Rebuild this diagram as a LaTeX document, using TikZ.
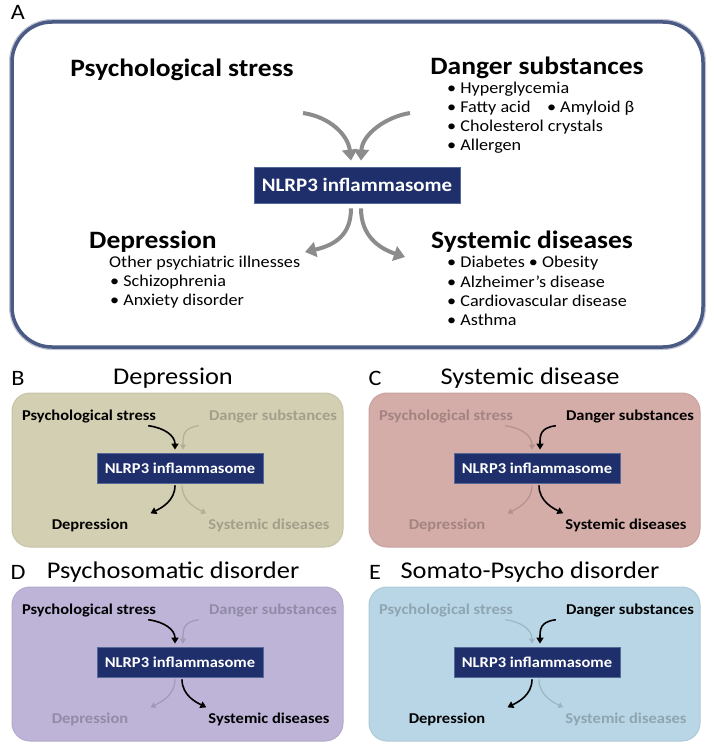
\documentclass[tikz,border=0pt]{standalone}
\usepackage{fontspec}
\setmainfont{Carlito}[FakeStretch=1.1]
\usetikzlibrary{arrows.meta}

% 颜色定义
\definecolor{navy}{RGB}{31,47,107}
\definecolor{navyedge}{RGB}{86,104,150}
\definecolor{frameA}{RGB}{74,90,133}
\definecolor{panB}{RGB}{211,207,179}
\definecolor{panC}{RGB}{212,172,168}
\definecolor{panD}{RGB}{189,180,216}
\definecolor{panE}{RGB}{185,214,230}

% 字号快捷命令
\newcommand{\fsz}[1]{\fontsize{#1}{#1}\selectfont}

\begin{document}
\begin{tikzpicture}[
    % 坐标单位:1pt, y 轴向下(与图片像素一致)
    x=1pt, y=-1pt,
    % 大标题样式
    bigtitle/.style={font=\bfseries\fsz{25}, inner sep=0pt},
    % 列表条目样式
    item/.style={font=\fsz{16.5}, anchor=west, inner sep=0pt},
    % NLRP3 方框样式
    nlrbox/.style={
        rectangle, % 形状:矩形
        fill=navy, % 填充色:深蓝
        draw=navyedge, % 边框颜色
        line width=0.8pt, % 边框宽度
        text=white, % 文字颜色
        inner sep=0pt
        },
    % 大箭头(面板 A)
    bigarrow/.style={line width=4pt, draw=black!45,
        -{Triangle[length=11pt,width=15pt]}},
    % 面板样式
    panelbox/.style={rectangle, rounded corners=18pt, draw=#1!94!black,
        line width=1pt, fill=#1, minimum width=331pt, minimum height=154pt},
    panellabel/.style={font=\fsz{22}, inner sep=0pt},
    paneltitle/.style={font=\fsz{24}, inner sep=0pt},
    paneltext/.style={font=\bfseries\fsz{15}, inner sep=0pt},
    % 高亮/淡化
    lit/.style={color=black},
    lit line/.style={draw=black, line width=1.6pt,
        -{Triangle[length=6pt,width=7pt]}},
    ]
    \useasboundingbox (0,0) rectangle (714,752);
    % ========== 第一步:面板 A ==========
    \node [panellabel] (labA) at (18,12) {A};
    \draw [line width=6pt, frameA!35, rounded corners=40pt] (12,22) rectangle (703,347);
    \draw [line width=3.5pt, frameA, fill=white, rounded corners=40pt] (12,22) rectangle (703,347);
    \node [bigtitle] (psyA) at (182,70) {Psychological stress};
    \node [bigtitle] (danA) at (537,68) {Danger substances};
    \node [item] (danA1) at (447,89) {• Hyperglycemia};
    \node [item] (danA2) at (447,108) {• Fatty acid\quad• Amyloid β};
    \node [item] (danA3) at (447,127) {• Cholesterol crystals};
    \node [item] (danA4) at (447,146) {• Allergen};
    \node [nlrbox, font=\bfseries\fsz{19}, minimum width=206pt, minimum height=36pt]
        (nlrA) at (357,185) {NLRP3 inflammasome};
    \node [bigtitle, anchor=west] (depA) at (89,242) {Depression};
    \node [item] (depA1) at (109,263) {Other psychiatric illnesses};
    \node [item] (depA2) at (110,282) {• Schizophrenia};
    \node [item] (depA3) at (110,301) {• Anxiety disorder};
    \node [bigtitle, anchor=west] (sysA) at (431,242) {Systemic diseases};
    \node [item] (sysA1) at (447,263) {• Diabetes • Obesity};
    \node [item] (sysA2) at (447,282) {• Alzheimer’s disease};
    \node [item] (sysA3) at (447,301) {• Cardiovascular disease};
    \node [item] (sysA4) at (447,320) {• Asthma};
    % 箭头的自由端
    \coordinate (inL) at (303,113);
    \coordinate (inR) at (410,113);
    \coordinate (outL) at (305,252);
    \coordinate (outR) at (405,257);
    \draw [bigarrow] (inL) .. controls (330,117) and (348,135) .. ([xshift=-6pt,yshift=6pt]nlrA.north);
    \draw [bigarrow] (inR) .. controls (385,117) and (362,135) .. ([xshift=4pt,yshift=6pt]nlrA.north);
    \draw [bigarrow] ([xshift=-6pt,yshift=-5pt]nlrA.south) .. controls (351,235) and (335,245) .. (outL);
    \draw [bigarrow] ([xshift=4pt,yshift=-5pt]nlrA.south) .. controls (361,235) and (378,248) .. (outR);
    % ========== 第二步:面板 B--E(循环) ==========
    \foreach \n/\ttl/\bx/\by/\pc/\sa/\sb/\sc/\sd in {
        B/Depression/12/393/panB/lit/faded/lit/faded,
        C/Systemic disease/369/393/panC/faded/lit/faded/lit,
        D/Psychosomatic disorder/12/587/panD/lit/faded/faded/lit,
        E/Somato-Psycho disorder/369/587/panE/faded/lit/lit/faded} {
    \begin{scope}[shift={(\bx,\by)},
        faded/.style={color=\pc!77!black},
        faded line/.style={draw=\pc!85!black, line width=1.2pt,
            -{Triangle[length=5pt,width=6pt]}}]
        \node [panellabel] (\n-lab) at (6,-15) {\n};
        \node [paneltitle] (\n-ttl) at (161,-15) {\ttl};
        \node [panelbox=\pc] (\n-box) at (165.5,77) {};
        \node [paneltext, \sa] (\n-psy) at (77,24) {Psychological stress};
        \node [paneltext, \sb] (\n-dan) at (261,24) {Danger substances};
        \node [nlrbox, font=\bfseries\fsz{15}, minimum width=166pt, minimum height=30pt]
            (\n-nlr) at (168,75) {NLRP3 inflammasome};
        \node [paneltext, \sc] (\n-dep) at (78,132) {Depression};
        \node [paneltext, \sd] (\n-sys) at (257,132) {Systemic diseases};
        % 箭头
        \draw [\sa\space line] ([xshift=-8pt,yshift=-2pt]\n-psy.south east)
            .. controls +(16,2) and +(0,-14) .. ([xshift=-5pt,yshift=3pt]\n-nlr.north);
        \draw [\sb\space line] ([xshift=-10pt,yshift=-2pt]\n-dan.south west)
            .. controls +(-16,2) and +(0,-14) .. ([xshift=3pt,yshift=3pt]\n-nlr.north);
        \draw [\sc\space line] ([xshift=-5pt,yshift=-2pt]\n-nlr.south)
            .. controls +(0,16) and +(10,-5) .. ([xshift=22pt,yshift=5pt]\n-dep.north east);
        \draw [\sd\space line] ([xshift=2pt,yshift=-2pt]\n-nlr.south)
            .. controls +(0,16) and +(-10,-5) .. ([xshift=-2pt,yshift=5pt]\n-sys.north west);
    \end{scope}
    }
\end{tikzpicture}
\end{document}
